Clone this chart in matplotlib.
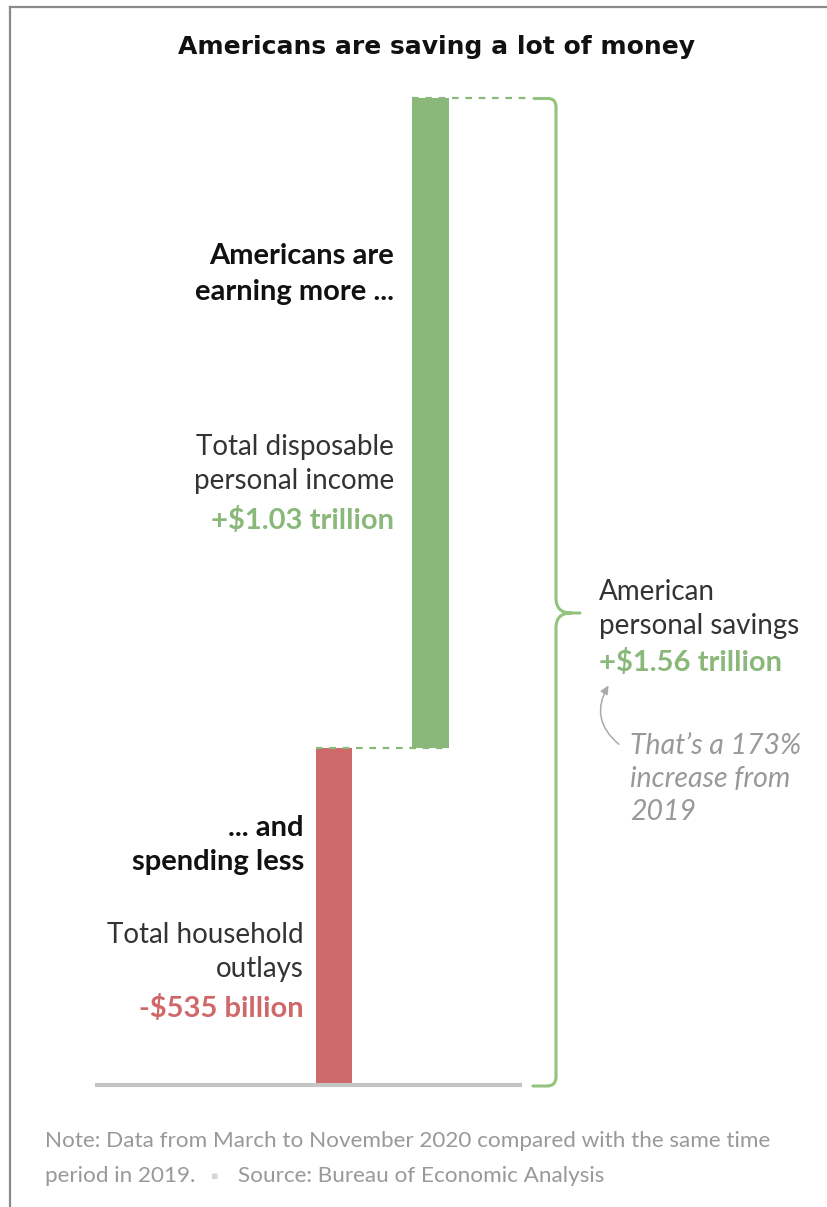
import matplotlib
matplotlib.use("Agg")
import matplotlib.pyplot as plt
from matplotlib.path import Path
from matplotlib.patches import PathPatch, FancyArrowPatch
import matplotlib.transforms as mtransforms

# ---- data (billions of dollars) ----
categories = ["Total household outlays", "Total disposable personal income"]
changes = [535, 1030]            # spending cut, income gain
savings_total = 1565             # American personal savings increase
value_labels = ["-$535 billion", "+$1.03 trillion"]
savings_label = "+$1.56 trillion"
pct_increase = "173%"

W, H = 827, 1207
DPI = 100
fig = plt.figure(figsize=(W / DPI, H / DPI), dpi=DPI)
fig.patch.set_facecolor("white")

# pixel transform (origin top-left)
TP = mtransforms.Affine2D().scale(1, -1).translate(0, H)

base_px, top_px = 1085, 98
k = savings_total / (base_px - top_px)
ax = fig.add_axes([0, 0, 1, 1])
ax.set_xlim(0, W)
ax.set_ylim(-(H - base_px) * k, base_px * k)
ax.axis("off")

GREEN = "#8ab87a"
RED = "#cf6868"
BRACE = "#93c47d"
GRAY_T = "#999999"

# bars
bar_x = [334, 430.5]
bar_w = [36, 37]
bottoms = [0, changes[0]]
colors = [RED, GREEN]
ax.bar(bar_x, changes, width=bar_w, bottom=bottoms, color=colors, zorder=2)

# baseline
ax.plot([95, 522], [0, 0], color="#c4c4c4", lw=3, solid_capstyle="butt", zorder=3)

# dashed connectors
ax.plot([316, 449], [changes[0], changes[0]], color=GREEN, lw=1.6,
        dashes=(3, 3), zorder=3)
ax.plot([412, 526], [savings_total, savings_total], color=GREEN, lw=1.6,
        dashes=(3, 3), zorder=3)

# brace (pixel coords)
verts = [(534, 98.5), (548, 98.5), (556, 98.5), (556, 107),
         (556, 598), (556, 613), (571, 613), (580, 613),
         (571, 613), (556, 613), (556, 628),
         (556, 1077), (556, 1086), (547, 1086), (533, 1086)]
codes = [Path.MOVETO, Path.LINETO, Path.CURVE3, Path.CURVE3,
         Path.LINETO, Path.CURVE3, Path.CURVE3, Path.LINETO,
         Path.MOVETO, Path.CURVE3, Path.CURVE3,
         Path.LINETO, Path.CURVE3, Path.CURVE3, Path.LINETO]
brace = PathPatch(Path(verts, codes), facecolor="none", edgecolor=BRACE,
                  lw=2.2, transform=TP, capstyle="round", joinstyle="round")
fig.add_artist(brace)

# frame lines
fig.add_artist(plt.Line2D([10, W], [7, 7], color="#8a8a8a", lw=1.6, transform=TP))
fig.add_artist(plt.Line2D([10, 10], [7, H], color="#8a8a8a", lw=1.6, transform=TP))

BODY = "Lato"
FS_B = 21     # bold labels
FS_N = 20     # regular labels

def t(x, y, s, **kw):
    fig.text(x, y, s, transform=TP, **kw)

t(436, 47, "Americans are saving a lot of money", ha="center", va="center",
  fontsize=18, fontweight="bold", family="DejaVu Sans", color="#111")

# left labels for income
t(394, 256, "Americans are", ha="right", va="center", fontsize=FS_B,
  fontweight="bold", family=BODY, color="#111")
t(394, 292, "earning more ...", ha="right", va="center", fontsize=FS_B,
  fontweight="bold", family=BODY, color="#111")
t(394, 447, "Total disposable", ha="right", va="center", fontsize=FS_N,
  fontweight="normal", family=BODY, color="#333")
t(394, 481, "personal income", ha="right", va="center", fontsize=FS_N,
  fontweight="normal", family=BODY, color="#333")
t(394, 520, value_labels[1], ha="right", va="center", fontsize=FS_B,
  fontweight="bold", family=BODY, color=GREEN)

# left labels for spending
t(304, 828, "... and", ha="right", va="center", fontsize=FS_B,
  fontweight="bold", family=BODY, color="#111")
t(304, 862, "spending less", ha="right", va="center", fontsize=FS_B,
  fontweight="bold", family=BODY, color="#111")
t(304, 935, "Total household", ha="right", va="center", fontsize=FS_N,
  fontweight="normal", family=BODY, color="#333")
t(304, 969, "outlays", ha="right", va="center", fontsize=FS_N,
  fontweight="normal", family=BODY, color="#333")
t(304, 1008, value_labels[0], ha="right", va="center", fontsize=FS_B,
  fontweight="bold", family=BODY, color=RED)

# savings labels
t(599, 592, "American", ha="left", va="center", fontsize=FS_N,
  fontweight="normal", family=BODY, color="#333")
t(599, 626, "personal savings", ha="left", va="center", fontsize=FS_N,
  fontweight="normal", family=BODY, color="#333")
t(599, 662, savings_label, ha="left", va="center", fontsize=FS_B,
  fontweight="bold", family=BODY, color=GREEN)

FS_I = 20.5
t(630, 746, "That\u2019s a " + pct_increase, ha="left", va="center", fontsize=FS_I,
  fontweight="normal", style="italic", family=BODY, color=GRAY_T)
t(630, 779, "increase from", ha="left", va="center", fontsize=FS_I,
  fontweight="normal", style="italic", family=BODY, color=GRAY_T)
t(630, 812, "2019", ha="left", va="center", fontsize=FS_I,
  fontweight="normal", style="italic", family=BODY, color=GRAY_T)

arr = FancyArrowPatch((621, 746), (610, 683), transform=TP,
                      connectionstyle="arc3,rad=-0.45",
                      arrowstyle="-|>,head_length=2.5,head_width=1.2",
                      color="#aaaaaa", lw=1.1, mutation_scale=2)
fig.add_artist(arr)

# footnote
FS_NOTE = 16.2
t(45, 1141, "Note: Data from March to November 2020 compared with the same time",
  ha="left", va="center", fontsize=FS_NOTE, family=BODY, color=GRAY_T)
t(45, 1176, "period in 2019.", ha="left", va="center", fontsize=FS_NOTE,
  family=BODY, color=GRAY_T)
t(211, 1176, "\u25aa", ha="left", va="center", fontsize=8, family="DejaVu Sans", color="#d5d5d5")
t(238, 1176, "Source: Bureau of Economic Analysis", ha="left", va="center",
  fontsize=FS_NOTE, family=BODY, color=GRAY_T)

fig.savefig("out.png", dpi=DPI, facecolor="white")
